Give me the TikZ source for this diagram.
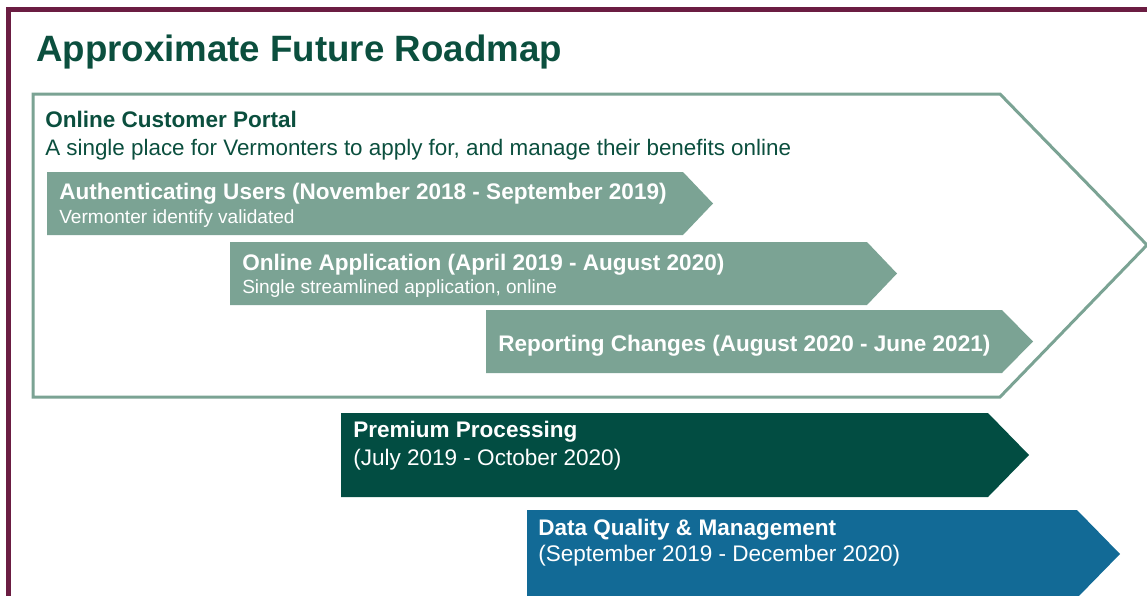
\documentclass[tikz,border=0pt]{standalone}
\usepackage{fontspec}
\setmainfont{Liberation Sans}
\definecolor{framered}{HTML}{6B1D42}
\definecolor{titlegreen}{HTML}{0B4F3E}
\definecolor{sage}{HTML}{7BA394}
\definecolor{pine}{HTML}{024D42}
\definecolor{ocean}{HTML}{126A96}
\begin{document}
\begin{tikzpicture}[x=0.75pt,y=-0.75pt,
    txt/.style={anchor=base west,inner sep=0pt},
    bighead/.style={txt,text=titlegreen,font=\fontsize{16.9}{20}\selectfont\bfseries},
    bigsub/.style={txt,text=titlegreen,font=\fontsize{16.8}{20}\selectfont},
    barhead/.style={txt,text=white,font=\fontsize{16.9}{20}\selectfont\bfseries},
    barsub/.style={txt,text=white,font=\fontsize{14.3}{17}\selectfont},
    barsubbig/.style={txt,text=white,font=\fontsize{16.9}{20}\selectfont}]
    \useasboundingbox (0,0) rectangle (1147,596);
    % slide frame
    \draw[framered, line width=3.75pt] (8,620) -- (8,9) -- (1170,9);
    \node[txt,text=titlegreen,font=\fontsize{27.5}{32}\selectfont\bfseries] (title) at (36,61) {Approximate Future Roadmap};
    % portal chevron
    \draw[sage, line width=2.25pt] (33,94) -- (1000,94) -- (1147,245) -- (1000,397) -- (33,397) -- cycle;
    \node[bighead] (portal) at (45,127) {Online Customer Portal};
    \node[bigsub] (portalsub) at (45,155) {A single place for Vermonters to apply for, and manage their benefits online};
    % phases
    \fill[sage] (47,172) -- (683,172) -- (713,203.5) -- (683,235) -- (47,235) -- cycle;
    \node[barhead] (auth) at (59,199) {Authenticating Users (November 2018 - September 2019)};
    \node[barsub] (authsub) at (59,223) {Vermonter identify validated};
    \fill[sage] (230,242) -- (867,242) -- (897,273.5) -- (867,305) -- (230,305) -- cycle;
    \node[barhead] (app) at (242,270) {Online Application (April 2019 - August 2020)};
    \node[barsub] (appsub) at (242,293) {Single streamlined application, online};
    \fill[sage] (486,310) -- (1002,310) -- (1033,341.5) -- (1002,373) -- (486,373) -- cycle;
    \node[barhead] (report) at (498,351) {Reporting Changes (August 2020 - June 2021)};
    % other projects
    \fill[pine] (341,413) -- (988,413) -- (1029,455) -- (988,497) -- (341,497) -- cycle;
    \node[barhead] (premium) at (353,437) {Premium Processing};
    \node[barsubbig] (premiumsub) at (353,465) {(July 2019 - October 2020)};
    \fill[ocean] (527,510) -- (1077,510) -- (1120,554) -- (1077,598) -- (527,598) -- cycle;
    \node[barhead] (data) at (538,535) {Data Quality \& Management};
    \node[barsubbig] (datasub) at (538,561) {(September 2019 - December 2020)};
\end{tikzpicture}
\end{document}
